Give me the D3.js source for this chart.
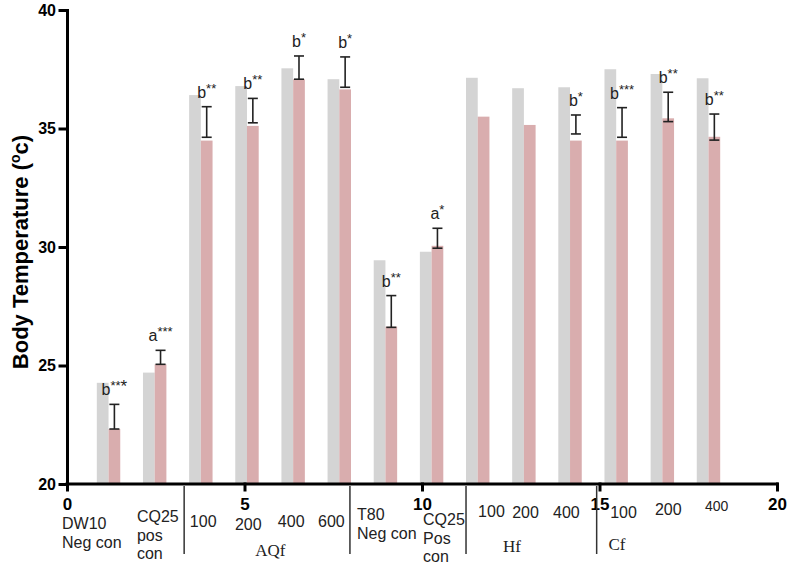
<!DOCTYPE html>
<html>
<head>
<meta charset="utf-8">
<script src="https://cdn.jsdelivr.net/npm/d3@7"></script>
<style>
  body { margin: 0; background: #fff; }
  svg { display: block; font-family: Arial, "Liberation Sans", sans-serif; }
  .axis path, .axis line { stroke: #000; stroke-width: 3; stroke-linecap: square; }
  .axis text { font-weight: bold; fill: #000; }
</style>
</head>
<body>
<svg width="795" height="566"></svg>
<script>
      // position of each bar pair on the 0-20 x axis
      const groupX = [1.17, 2.47, 3.77, 5.07, 6.37, 7.67, 8.97, 10.27, 11.57, 12.87, 14.17, 15.47, 16.77, 18.07];

      // grey series (first bar of each pair)
      const greyVals = [24.27, 24.70, 36.41, 36.79, 37.54, 37.08, 29.44, 29.80, 37.14, 36.70, 36.74, 37.50, 37.30, 37.12];
      // pink series (second bar)
      const pinkVals = [22.32, 25.05, 34.49, 35.11, 37.08, 36.65, 26.64, 30.05, 35.50, 35.15, 34.49, 34.49, 35.43, 34.65];

      // error bars drawn on the pink bars
      const errLow  = [22.32, 25.05, 34.63, 35.24, 37.08, 36.74, 26.61, 29.95, null, null, 34.77, 34.63, 35.29, 34.51];
      const errHigh = [23.36, 25.64, 35.92, 36.27, 38.06, 38.02, 27.95, 30.79, null, null, 35.57, 35.88, 36.53, 35.61];

      // significance letters, superscript stars, trailing star
      const sigLetter = ["b", "a", "b", "b", "b", "b", "b", "a", "", "", "b", "b", "b", "b"];
      const sigStars  = ["**", "***", "**", "**", "*", "*", "**", "*", "", "", "*", "***", "**", "**"];
      const sigTail   = ["*", "", "", "", "", "", "", "", "", "", "", "", "", ""];

      const yTicks = [20, 25, 30, 35, 40];
      const xTicks = [0, 5, 10, 15, 20];

      // text under the x axis: lines and where they start on the x axis
      const catLines = [["DW10", "Neg con"], ["CQ25", "pos", "con"], ["100"], ["200"], ["400"], ["600"],
                        ["T80", "Neg con"], ["CQ25", "Pos", "con"], ["100"], ["200"], ["400"], ["100"], ["200"], ["400"]];
      const catAt = [-0.14, 1.97, 3.46, 4.73, 5.94, 7.07, 8.17, 10.03, 11.58, 12.54, 13.69, 15.30, 16.56, 17.97];
      const catTop = [529, 522, 527, 530, 527, 527, 520, 525, 517, 518, 518, 518, 515, 511];

      const groupNames = ["AQf", "Hf", "Cf"];
      const groupNameAt = [5.3, 12.28, 15.25];
      const separatorsAt = [3.30, 7.97, 11.24, 14.92];

      const svg = d3.select("svg");

      let x = d3.scaleLinear().domain([0, 20]).range([67, 777]);
      let y = d3.scaleLinear().domain([20, 40]).range([484, 10]);
      const barW = 0.33;

      // bars
      const bars = svg.append("g");
      bars.selectAll("rect.grey")
          .data(greyVals)
          .enter()
          .append("rect")
          .attr("class", "grey")
          .attr("x", (d, i) => x(groupX[i] - barW))
          .attr("width", x(barW) - x(0))
          .attr("y", d => y(d))
          .attr("height", d => y(20) - y(d))
          .style("fill", "#d4d4d4");

      bars.selectAll("rect.pink")
          .data(pinkVals)
          .enter()
          .append("rect")
          .attr("class", "pink")
          .attr("x", (d, i) => x(groupX[i]))
          .attr("width", x(barW) - x(0))
          .attr("y", d => y(d))
          .attr("height", d => y(20) - y(d))
          .style("fill", "#d9adae");

      // error bars
      const errIdx = d3.range(groupX.length).filter(i => errHigh[i] != null);
      const err = svg.append("g")
          .style("stroke", "#222")
          .style("stroke-width", 1.6);
      errIdx.forEach(i => {
        let cx = x(groupX[i] + barW / 2);
        err.append("line").attr("x1", cx).attr("x2", cx).attr("y1", y(errLow[i])).attr("y2", y(errHigh[i]));
        err.append("line").attr("x1", cx - 5).attr("x2", cx + 5).attr("y1", y(errLow[i])).attr("y2", y(errLow[i]));
        err.append("line").attr("x1", cx - 5).attr("x2", cx + 5).attr("y1", y(errHigh[i])).attr("y2", y(errHigh[i]));
      });

      // significance labels
      errIdx.forEach(i => {
        let t = svg.append("text")
          .attr("x", x(groupX[i] + barW / 2))
          .attr("y", y(errHigh[i]) - 9)
          .style("text-anchor", "middle")
          .style("font-size", "16px")
          .style("fill", "#222");
        t.append("tspan").text(sigLetter[i]);
        t.append("tspan").attr("dy", -5).style("font-size", "13px").text(sigStars[i]);
        if (sigTail[i]) t.append("tspan").attr("dy", 2).style("font-size", "17px").text(sigTail[i]);
      });

      // axes
      svg.append("g")
          .attr("class", "axis")
          .attr("transform", "translate(" + x(0) + ",0)")
          .call(d3.axisLeft(y).tickValues(yTicks).tickSize(7).tickSizeOuter(0).tickPadding(4))
          .selectAll("text").style("font-size", "16px");

      const xa = svg.append("g")
          .attr("class", "axis")
          .attr("transform", "translate(0," + y(20) + ")")
          .call(d3.axisBottom(x).tickValues(xTicks).tickSize(6).tickSizeOuter(0).tickPadding(8));
      xa.selectAll("text").style("font-size", "17px");
      xa.select(".domain").attr("d", "M" + x(0) + ",0H" + x(20));

      // y title
      const title = svg.append("text")
          .attr("transform", "translate(28,252) rotate(-90)")
          .style("text-anchor", "middle")
          .style("font-size", "22px")
          .style("font-weight", "bold")
          .text("Body Temperature (");
      title.append("tspan").attr("dy", -8).style("font-size", "14px").text("o");
      title.append("tspan").attr("dy", 8).text("c)");

      // category text under the axis
      const cats = svg.append("g").style("font-size", "16px").style("fill", "#222");
      catLines.forEach((lines, i) => {
        let t = cats.append("text").attr("x", x(catAt[i])).attr("y", catTop[i]);
        if (i === 13) t.style("font-size", "14px");
        lines.forEach((ln, j) => {
          t.append("tspan").attr("x", x(catAt[i])).attr("dy", j === 0 ? 0 : 18.5).text(ln);
        });
      });

      svg.append("g")
          .style("font-family", "'Liberation Serif', 'Times New Roman', serif")
          .style("font-size", "17px")
          .style("fill", "#222")
          .selectAll("text")
          .data(groupNames)
          .enter()
          .append("text")
          .attr("x", (d, i) => x(groupNameAt[i]))
          .attr("y", (d, i) => [556, 552, 550][i])
          .text(d => d);

      // separators below the axis
      svg.append("g")
          .selectAll("line")
          .data(separatorsAt)
          .enter()
          .append("line")
          .attr("x1", d => x(d))
          .attr("x2", d => x(d))
          .attr("y1", 486)
          .attr("y2", 554)
          .style("stroke", "#333")
          .style("stroke-width", 1.5);
</script>
</body>
</html>
